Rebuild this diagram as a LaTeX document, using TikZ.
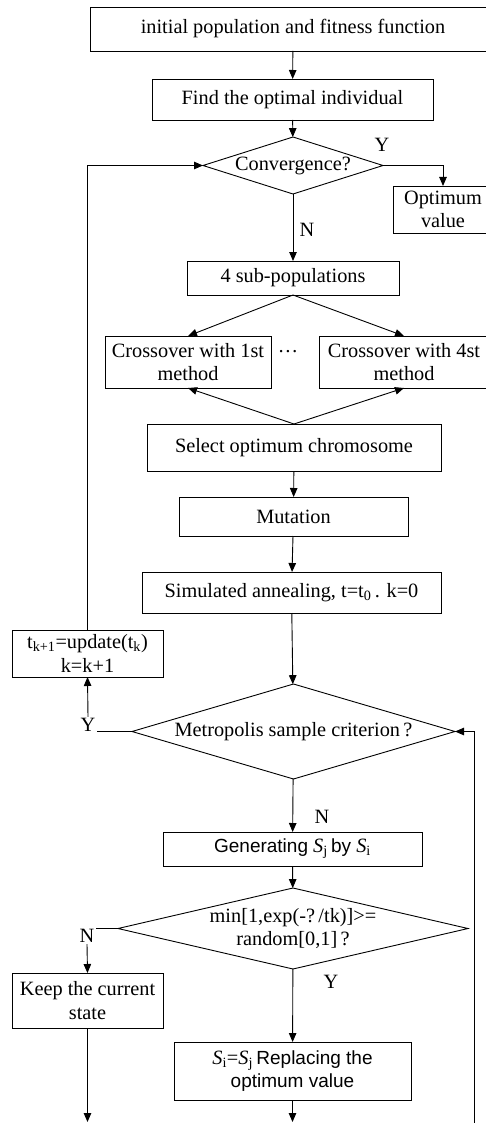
\documentclass[tikz,border=0pt]{standalone}
\usepackage{fontspec}
\setmainfont{Liberation Serif}
\newfontfamily\arialfont{Liberation Sans}
\usetikzlibrary{arrows.meta, calc, positioning}
\usetikzlibrary{shapes}

\begin{document}
\begin{tikzpicture}[% styles used in image code
         x = 1pt, y = -1pt,
         > = {Triangle[length=9pt,width=7.5pt]},
line width = 0.9pt,
every node/.style = {font=\fontsize{20.3}{23.5}\selectfont},
box/.style = {draw, align=center, inner sep=0pt, outer sep=0pt},
dia/.style = {draw, diamond, align=center, inner sep=0pt, outer sep=0pt,
              aspect=#1}, % aspect = width/height
lbl/.style = {inner sep=1pt}
                        ]
	\useasboundingbox (0,0) rectangle (485,1123);
	% genetic part
	\node[box, minimum width=406, minimum height=44] (init) at (293,29) {initial population and fitness function};
	\node[box, minimum width=281, minimum height=41] (find) at (292.5,99.5) {Find the optimal individual};
	\node[dia=3.16, minimum width=180, minimum height=57] (conv) at (293,165.5) {Convergence?};
	\node[box, minimum width=100, minimum height=47] (opt) at (443,209.5) {Optimum\\value};
	\node[box, minimum width=212, minimum height=34] (sub) at (293,278) {4 sub-populations};
	\node[box, minimum width=166, minimum height=52] (cross1) at (188,362) {Crossover with 1st\\method};
	\node[box, minimum width=170, minimum height=52] (cross4) at (404,362) {Crossover with 4st\\method};
	\node (dots) at (288,352) {\ldots};
	\node[box, minimum width=294, minimum height=47] (sel) at (294,447.5) {Select optimum chromosome};
	\node[box, minimum width=229, minimum height=39] (mut) at (293.5,516.5) {Mutation};
	% annealing part
	\node[box, minimum width=299, minimum height=41] (sa) at (291.5,592.5) {Simulated annealing, t=t\textsubscript{0}\,. k=0};
	\node[box, minimum width=151, minimum height=47] (upd) at (87.5,653.5) {t\textsubscript{k+1}=update(t\textsubscript{k})\\k=k+1};
	\node[dia=3.4, minimum width=323, minimum height=95] (met) at (293.5,731.5) {Metropolis sample criterion\,?};
	\node[box, minimum width=259, minimum height=34] (gen) at (292.5,849)
		{{\arialfont\fontsize{19}{22}\selectfont Generating} \textit{S}\textsubscript{j}\,{\arialfont\fontsize{19}{22}\selectfont by} \textit{S}\textsubscript{i}};
	\node[dia=4.32, minimum width=350, minimum height=81] (min) at (293,928.5) {min[1,exp(-?\,/tk)]>=\\random[0,1]\,?};
	\node[box, minimum width=151, minimum height=55] (keep) at (87.5,1000.5) {Keep the current\\state};
	\node[box, minimum width=237, minimum height=58] (rep) at (292.5,1071)
		{\textit{S}\textsubscript{i}=\textit{S}\textsubscript{j}\,{\arialfont\fontsize{19}{22}\selectfont Replacing the}\\{\arialfont\fontsize{19}{22}\selectfont optimum value}};

	% labels
	\node[lbl] (cy) at (382,145) {Y};
	\node[lbl] (cn) at (307,230) {N};
	\node[lbl] (ym) at (88,725) {Y};
	\node[lbl] (mn) at (322,817) {N};
	\node[lbl] (nm) at (87,936) {N};
	\node[lbl] (my) at (331,982) {Y};

	\coordinate (kb) at (87.5,1122);
	\coordinate (rb) at (292.5,1122);
	\coordinate (back) at (474,1123);

	% connectors
	\draw [->] (init) -- (find);
	\draw [->] (find) -- (conv);
	\draw [->] (conv.east) -| (opt.north);
	\draw [->] (conv) -- (sub);
	\draw [->] (sub.south) -- (cross1.north);
	\draw [->] (sub.south) -- (cross4.north);
	\draw [->] (sel.north) -- (cross1.south);
	\draw [->] (sel.north) -- (cross4.south);
	\draw [->] (sel) -- (mut);
	\draw [->] (mut) -- (sa);
	\draw [->] (sa) -- (met);
	\draw (met.west) -- (met.west -| ym.east);
	\draw [->] (ym.north) -- (upd.south);
	\draw [->] (upd.north) |- (conv.west);
	\draw [->] (met) -- (gen);
	\draw [->] (gen) -- (min);
	\draw (min.west) -- (min.west -| nm.east);
	\draw [->] (nm.south) -- (keep.north);
	\draw [->] (min) -- (rep);
	\draw [->] (keep) -- (kb);
	\draw [->] (rep) -- (rb);
	\draw [->] (back) |- (met.east);
\end{tikzpicture}
\end{document}
